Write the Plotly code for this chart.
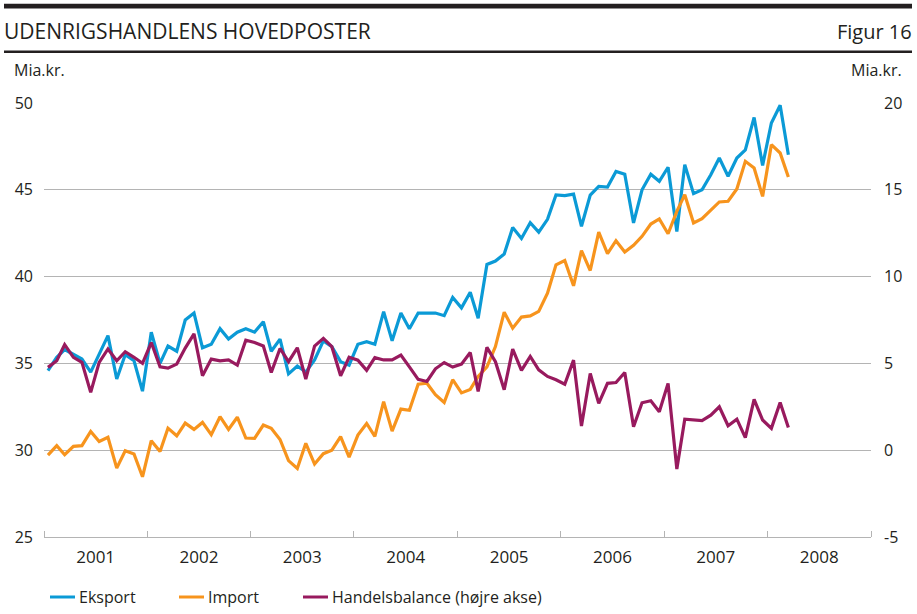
import pandas as pd
import plotly.graph_objects as go

# ---- data (monthly, Jan 2001 - Mar 2008), mia. kr.
eksport = [34.58, 35.35, 35.8, 35.5, 35.25, 34.5, 35.5, 36.6, 34.1, 35.5, 35.15, 33.4,
           36.8, 35.0, 36.0, 35.7, 37.5, 37.9, 35.9, 36.1, 37.0, 36.4, 36.8, 37.0,
           36.8, 37.4, 35.7, 36.4, 34.4, 34.85, 34.5, 35.2, 36.3, 35.96, 35.1, 34.9,
           36.1, 36.25, 36.1, 37.98, 36.3, 37.9, 37.0, 37.9, 37.9, 37.9, 37.75, 38.8,
           38.2, 39.1, 37.6, 40.7, 40.9, 41.3, 42.83, 42.2, 43.1, 42.56, 43.3, 44.7,
           44.67, 44.75, 42.9, 44.7, 45.2, 45.16, 46.06, 45.9, 43.09, 45.0, 45.9, 45.49,
           46.3, 42.6, 46.45, 44.78, 45.0, 45.87, 46.83, 45.78, 46.83, 47.3, 49.17, 46.4,
           48.85, 49.87, 47.02]
importv = [29.72, 30.26, 29.74, 30.22, 30.26, 31.08, 30.5, 30.74, 28.97, 29.97, 29.78, 28.47,
           30.55, 29.93, 31.27, 30.83, 31.56, 31.2, 31.6, 30.9, 31.93, 31.2, 31.9, 30.7,
           30.68, 31.45, 31.26, 30.62, 29.4, 28.95, 30.4, 29.2, 29.8, 30.0, 30.78, 29.6,
           30.87, 31.54, 30.8, 32.8, 31.1, 32.37, 32.3, 33.8, 33.86, 33.2, 32.75, 34.06,
           33.3, 33.5, 34.25, 34.8, 35.97, 37.95, 37.03, 37.67, 37.74, 38.0, 39.05, 40.68,
           40.93, 39.47, 41.5, 40.35, 42.56, 41.32, 42.07, 41.42, 41.8, 42.32, 43.03, 43.32,
           42.47, 43.76, 44.72, 43.09, 43.34, 43.82, 44.3, 44.34, 45.05, 46.64, 46.26, 44.62,
           47.6, 47.12, 45.74]
balance = [4.77, 5.15, 6.08, 5.35, 5.06, 3.33, 5.06, 5.83, 5.15, 5.67, 5.35, 5.0,
           6.2, 4.8, 4.73, 4.96, 5.88, 6.7, 4.29, 5.25, 5.15, 5.2, 4.9, 6.34,
           6.2, 6.0, 4.48, 5.86, 5.1, 5.9, 4.1, 6.0, 6.44, 5.96, 4.29, 5.35,
           5.19, 4.6, 5.33, 5.2, 5.2, 5.48, 4.8, 4.08, 3.96, 4.69, 5.05, 4.79,
           4.96, 5.63, 3.38, 5.92, 5.1, 3.48, 5.82, 4.6, 5.4, 4.63, 4.25, 4.06,
           3.8, 5.19, 1.39, 4.42, 2.7, 3.85, 3.9, 4.48, 1.35, 2.73, 2.85, 2.22,
           3.85, -1.09, 1.79, 1.74, 1.7, 2.02, 2.5, 1.41, 1.79, 0.72, 2.93, 1.74,
           1.26, 2.75, 1.31]

left_ticks = [25, 30, 35, 40, 45, 50]
right_ticks = [-5, 0, 5, 10, 15, 20]
right_labels = ["-5", "0", "5", "10", "15", "20"]

months = pd.date_range("2001-01-01", periods=len(eksport), freq="MS") + pd.Timedelta(days=14)

names = ["Eksport", "Import", "Handelsbalance (højre akse)"]
colors = ["#0b9ad6", "#f7941d", "#981a5e"]

FONT = "Open Sans, Noto Sans, sans-serif"
TXT = "#231f20"

# layout geometry (pixels)
W, H = 917, 614
ML, MR, MT, MB = 44, 46, 103, 77
PW, PH = W - ML - MR, H - MT - MB


def px(x):
    return (x - ML) / PW


def py(y):
    return (H - MB - y) / PH


fig = go.Figure()
fig.add_trace(go.Scatter(x=months, y=eksport, mode="lines", name=names[0],
                         line=dict(color=colors[0], width=3.2), showlegend=False))
fig.add_trace(go.Scatter(x=months, y=importv, mode="lines", name=names[1],
                         line=dict(color=colors[1], width=3.2), showlegend=False))
fig.add_trace(go.Scatter(x=months, y=balance, mode="lines", name=names[2], yaxis="y2",
                         line=dict(color=colors[2], width=3.2), showlegend=False))

grid = "#b4b4b4"
fig.update_layout(
    width=W, height=H,
    margin=dict(l=ML, r=MR, t=MT, b=MB, autoexpand=False),
    paper_bgcolor="white", plot_bgcolor="white",
    font=dict(family=FONT, color=TXT, size=15),
    xaxis=dict(type="date", range=["2001-01-01", "2009-01-01"],
               dtick="M12", tick0="2001-01-01", ticklabelmode="period",
               tickformat="%Y", ticks="inside", ticklen=6, tickcolor=grid,
               showline=True, linecolor=grid, linewidth=1.3, showgrid=False,
               zeroline=False, ticklabelstandoff=4,
               tickfont=dict(size=17, family=FONT, color=TXT)),
    yaxis=dict(range=[25, 50], tickmode="array", tickvals=left_ticks,
               showgrid=True, gridcolor=grid,
               gridwidth=1.3, zeroline=False, ticks="", showline=False,
               ticklabelstandoff=10, tickfont=dict(size=16)),
    yaxis2=dict(range=[-5, 20], tickmode="array", tickvals=right_ticks, ticktext=right_labels,
                overlaying="y", side="right",
                showgrid=False, zeroline=False, ticks="", showline=False,
                ticklabelstandoff=12, tickfont=dict(size=16)),
)

shapes = [
    dict(type="rect", xref="paper", yref="paper", x0=px(4), x1=px(912), y0=py(8.6), y1=py(3.8),
         fillcolor="#231f20", line=dict(width=0), layer="above"),
    dict(type="line", xref="paper", yref="paper", x0=px(4), x1=px(912), y0=py(51.8), y1=py(51.8),
         line=dict(color="#231f20", width=2.5)),
]
annotations = [
    dict(text="UDENRIGSHANDLENS HOVEDPOSTER", xref="paper", yref="paper", x=px(2), y=py(31),
         xanchor="left", yanchor="middle", showarrow=False, font=dict(size=21, color=TXT)),
    dict(text="Figur 16", xref="paper", yref="paper", x=px(914), y=py(31),
         xanchor="right", yanchor="middle", showarrow=False, font=dict(size=20, color=TXT)),
    dict(text="Mia.kr.", xref="paper", yref="paper", x=px(12), y=py(70),
         xanchor="left", yanchor="middle", showarrow=False, font=dict(size=16, color=TXT)),
    dict(text="Mia.kr.", xref="paper", yref="paper", x=px(904), y=py(70),
         xanchor="right", yanchor="middle", showarrow=False, font=dict(size=16, color=TXT)),
]

# manual legend
leg_x = [50, 179, 303]
for name, col, lx in zip(names, colors, leg_x):
    shapes.append(dict(type="line", xref="paper", yref="paper", x0=px(lx), x1=px(lx + 25),
                       y0=py(597), y1=py(597), line=dict(color=col, width=3)))
    annotations.append(dict(text=name, xref="paper", yref="paper", x=px(lx + 27), y=py(597),
                            xanchor="left", yanchor="middle", showarrow=False,
                            font=dict(size=16, color=TXT)))

fig.update_layout(shapes=shapes, annotations=annotations)
fig.write_html("out.html", config={"displayModeBar": False},
               post_script="document.body.style.margin='0';")
